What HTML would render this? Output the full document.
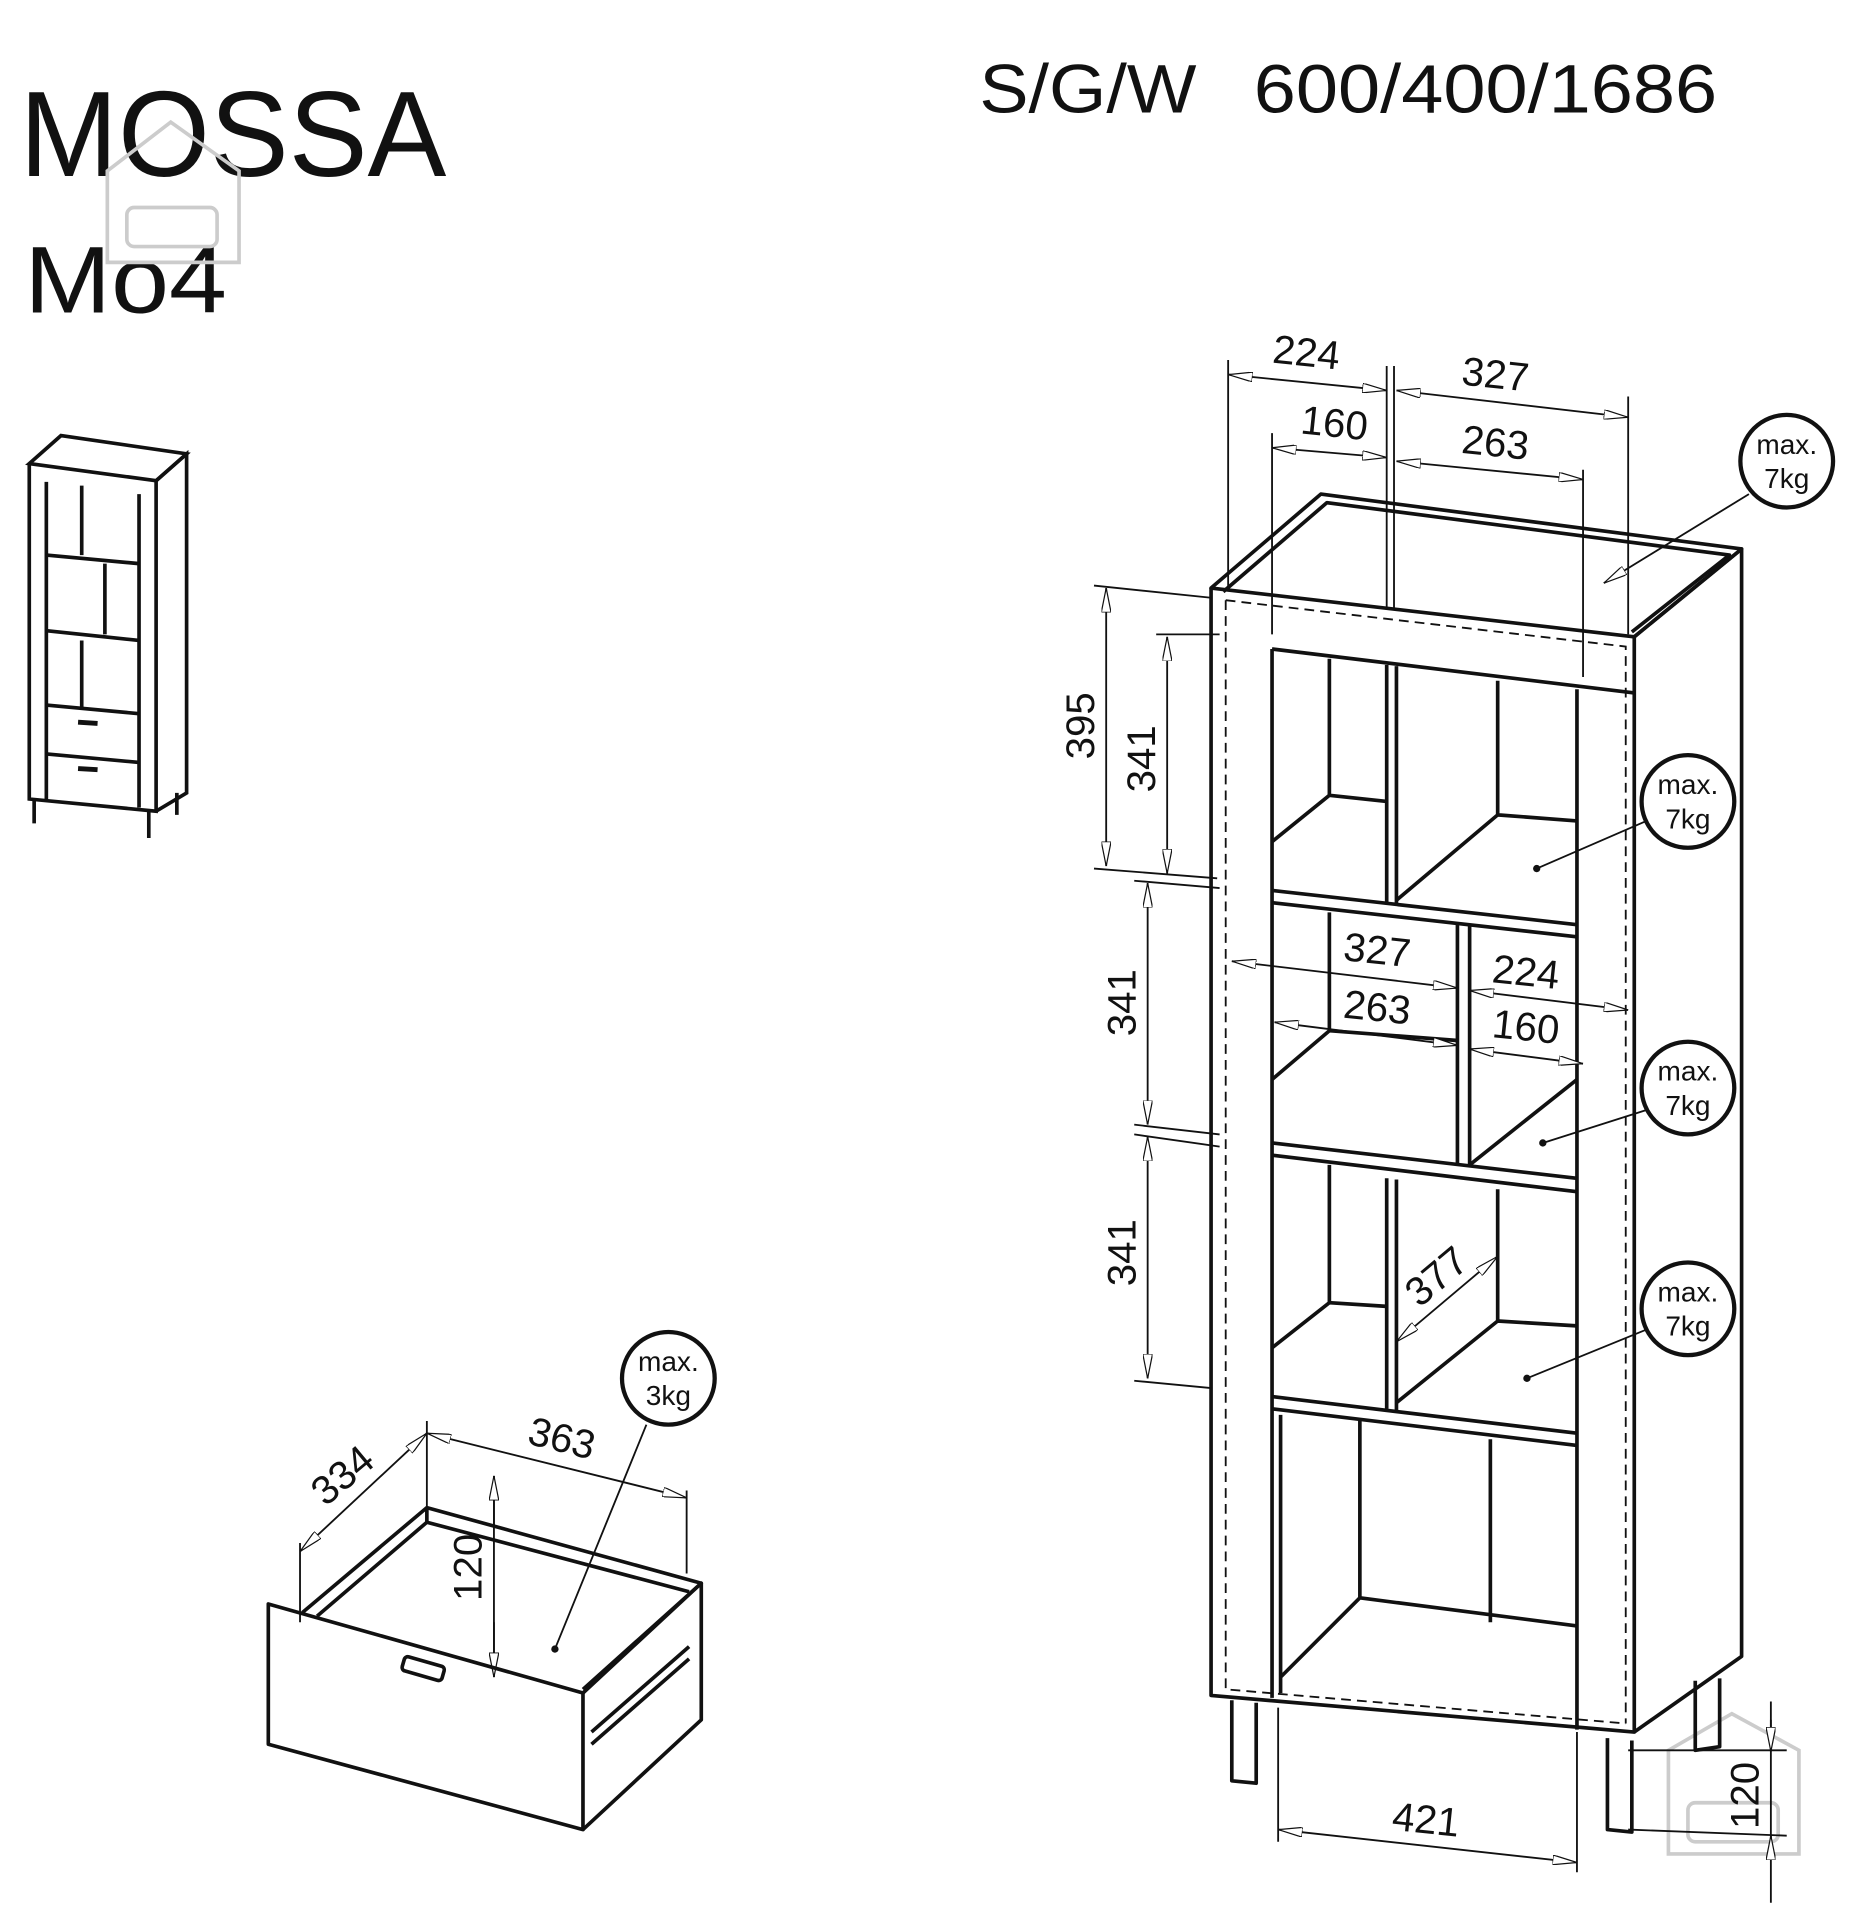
<!DOCTYPE html>
<html><head><meta charset="utf-8"><style>html,body{margin:0;padding:0;background:#fff}svg{display:block}</style></head><body>
<svg width="1866" height="1920" viewBox="0 0 1530 1574" xmlns="http://www.w3.org/2000/svg" font-family="Liberation Sans, sans-serif">
<defs>
<marker id="a" viewBox="0 0 20 8" refX="20" refY="4" markerWidth="20" markerHeight="8" orient="auto-start-reverse" markerUnits="userSpaceOnUse"><path d="M0,0 L20,4 L0,8 Z" fill="#fff" stroke="#111" stroke-width="1"/></marker>
</defs>
<rect width="1530" height="1574" fill="#fff"/>
<g fill="#111">
<text x="16" y="144" font-size="100" textLength="350" lengthAdjust="spacingAndGlyphs">MOSSA</text>
<text x="20" y="256" font-size="78" textLength="166" lengthAdjust="spacingAndGlyphs">Mo4</text>
<text x="803" y="92" font-size="56" textLength="178" lengthAdjust="spacingAndGlyphs">S/G/W</text>
<text x="1028" y="92" font-size="56" textLength="380" lengthAdjust="spacingAndGlyphs">600/400/1686</text>
</g>
<!-- watermark -->
<g fill="none" stroke="#ccc" stroke-width="3">
<path d="M88,140 L140,100 L196,140 L196,215 L88,215 Z"/><rect x="104" y="170" width="74" height="32" rx="6"/>
<path d="M1368,1435 L1420,1405 L1475,1435 L1475,1520 L1368,1520 Z"/><rect x="1384" y="1478" width="74" height="32" rx="6"/>
</g>
<!-- thumbnail -->
<g fill="none" stroke="#111" stroke-width="3">
<path d="M24,380 L50,357 L153,372 L128,394 Z"/>
<path d="M24,380 L24,655 L128,665 L128,394"/>
<path d="M128,394 L153,372 L153,650 L128,665"/>
<path d="M38,395 L38,655 M114,405 L114,662"/>
<path d="M38,455 L114,462 M38,517 L114,525 M38,578 L114,585 M38,618 L114,625"/>
<path d="M67,398 L67,455 M86,462 L86,520 M67,525 L67,582"/>
<path d="M28,655 L28,675 M122,665 L122,687 M145,650 L145,668"/>
</g>
<path d="M64,592 L80,593 M64,630 L80,631" stroke="#111" stroke-width="4"/>
<!-- main cabinet -->
<g fill="none" stroke="#111" stroke-width="3" stroke-linejoin="round">
<path d="M993,482 L1083,405 L1428,450 L1340,522 Z"/>
<path d="M1003,485 L1088,412 L1418,455 L1338,518"/>
<path d="M993,482 L993,1390 L1340,1420 L1340,522"/>
<path d="M1340,522 L1428,450 L1428,1358 L1340,1420"/>
<path d="M1043,532 L1043,1392 M1293,565 L1293,1418"/>
<path d="M1043,532 L1340,568"/>
<path d="M1043,730 L1293,758 M1043,740 L1293,768"/>
<path d="M1043,937 L1293,966 M1043,947 L1293,977"/>
<path d="M1043,1145 L1293,1175 M1043,1155 L1293,1185"/>
<path d="M1137,545 L1137,740 M1145,546 L1145,741"/>
<path d="M1195,757 L1195,955 M1205,758 L1205,956"/>
<path d="M1137,966 L1137,1155 M1145,967 L1145,1156"/>
<path d="M1090,540 L1090,652 M1043,690 L1090,652 L1137,657"/>
<path d="M1228,558 L1228,668 M1145,738 L1228,668 L1293,673"/>
<path d="M1090,748 L1090,845 M1043,885 L1090,845 L1195,853"/>
<path d="M1293,885 L1205,955"/>
<path d="M1090,955 L1090,1068 M1043,1105 L1090,1068 L1137,1071"/>
<path d="M1228,975 L1228,1083 M1145,1150 L1228,1083 L1293,1087"/>
<path d="M1050,1160 L1050,1388 M1115,1165 L1115,1310 M1050,1375 L1115,1310 L1293,1333 M1222,1180 L1222,1330"/>
<path d="M1010,1394 L1010,1460 L1030,1462 L1030,1396"/>
<path d="M1318,1425 L1318,1500 L1338,1502 L1338,1427"/>
<path d="M1390,1378 L1390,1435 L1410,1432 L1410,1376"/>
</g>
<path d="M1005,492 L1005,1385 L1333,1413 M1005,492 L1333,530 L1333,1413" fill="none" stroke="#111" stroke-width="1.5" stroke-dasharray="8,5"/>
<!-- dimension lines -->
<g stroke="#111" stroke-width="1.5" fill="none">
<path d="M1007,295 L1007,482 M1137,300 L1137,500 M1143,300 L1143,500 M1335,325 L1335,520 M1043,355 L1043,520 M1298,385 L1298,555"/>
<path d="M1007,307 L1137,320" marker-start="url(#a)" marker-end="url(#a)"/>
<path d="M1145,320 L1335,342" marker-start="url(#a)" marker-end="url(#a)"/>
<path d="M1043,367 L1137,375" marker-start="url(#a)" marker-end="url(#a)"/>
<path d="M1145,378 L1298,393" marker-start="url(#a)" marker-end="url(#a)"/>
<path d="M897,480 L993,490 M897,712 L998,720 M948,520 L1000,520 M930,722 L1000,728 M930,922 L1000,930 M930,930 L1000,940 M930,1132 L993,1138"/>
<path d="M907,482 L907,710" marker-start="url(#a)" marker-end="url(#a)"/>
<path d="M957,522 L957,716" marker-start="url(#a)" marker-end="url(#a)"/>
<path d="M941,724 L941,922" marker-start="url(#a)" marker-end="url(#a)"/>
<path d="M941,932 L941,1130" marker-start="url(#a)" marker-end="url(#a)"/>
<path d="M1010,788 L1195,810" marker-start="url(#a)" marker-end="url(#a)"/>
<path d="M1205,812 L1335,828" marker-start="url(#a)" marker-end="url(#a)"/>
<path d="M1045,838 L1195,857" marker-start="url(#a)" marker-end="url(#a)"/>
<path d="M1205,860 L1298,872" marker-start="url(#a)" marker-end="url(#a)"/>
<path d="M1145,1100 L1228,1030" marker-start="url(#a)" marker-end="url(#a)"/>
<path d="M1048,1400 L1048,1510 M1293,1420 L1293,1535"/>
<path d="M1048,1500 L1293,1527" marker-start="url(#a)" marker-end="url(#a)"/>
<path d="M1335,1435 L1465,1435 M1335,1500 L1465,1505 M1452,1395 L1452,1560"/>
<path d="M1452,1410 L1452,1436" marker-end="url(#a)"/>
<path d="M1452,1525 L1452,1505" marker-end="url(#a)"/>
<path d="M1434,405 L1315,478" marker-end="url(#a)"/>
<path d="M1350,673 L1260,712 M1350,910 L1265,937 M1350,1090 L1252,1130 M530,1168 L455,1352"/>
<path d="M350,1165 L350,1240 M563,1222 L563,1290 M246,1265 L246,1330"/>
<path d="M350,1175 L563,1228" marker-start="url(#a)" marker-end="url(#a)"/>
<path d="M246,1272 L350,1175" marker-start="url(#a)" marker-end="url(#a)"/>
<path d="M405,1210 L405,1375" />
<path d="M405,1210 L405,1250" marker-start="url(#a)"/>
<path d="M405,1330 L405,1375" marker-end="url(#a)"/>
</g>
<g fill="#111"><circle cx="1260" cy="712" r="3"/><circle cx="1265" cy="937" r="3"/><circle cx="1252" cy="1130" r="3"/><circle cx="455" cy="1352" r="3"/></g>
<!-- drawer -->
<g fill="none" stroke="#111" stroke-width="3" stroke-linejoin="round">
<path d="M220,1315 L478,1388 L478,1500 L220,1430 Z"/>
<path d="M248,1322 L350,1236 L575,1298 L478,1385"/>
<path d="M260,1325 L350,1248 L565,1305"/>
<path d="M350,1236 L350,1248"/>
<path d="M478,1388 L575,1298 L575,1410 L478,1500"/>
<path d="M485,1420 L565,1350 M485,1430 L565,1360"/>
<rect x="330" y="1362" width="34" height="12" rx="3" transform="rotate(16 347 1368)"/>
</g>
<!-- circles -->
<g fill="#fff" stroke="#111" stroke-width="3.5">
<circle cx="1465" cy="378" r="38"/><circle cx="1384" cy="657" r="38"/><circle cx="1384" cy="892" r="38"/><circle cx="1384" cy="1073" r="38"/><circle cx="548" cy="1130" r="38"/>
</g>
<g fill="#111" font-size="23" text-anchor="middle">
<text x="1465" y="372">max.</text><text x="1465" y="400">7kg</text>
<text x="1384" y="651">max.</text><text x="1384" y="679">7kg</text>
<text x="1384" y="886">max.</text><text x="1384" y="914">7kg</text>
<text x="1384" y="1067">max.</text><text x="1384" y="1095">7kg</text>
<text x="548" y="1124">max.</text><text x="548" y="1152">3kg</text>
</g>
<g fill="#111" font-size="33" text-anchor="middle">
<text x="1070" y="300" transform="rotate(6 1070 300)">224</text>
<text x="1225" y="318" transform="rotate(6 1225 318)">327</text>
<text x="1093" y="358" transform="rotate(6 1093 358)">160</text>
<text x="1225" y="374" transform="rotate(6 1225 374)">263</text>
<text x="897" y="595" transform="rotate(-90 897 595)">395</text>
<text x="947" y="622" transform="rotate(-90 947 622)">341</text>
<text x="931" y="822" transform="rotate(-90 931 822)">341</text>
<text x="931" y="1027" transform="rotate(-90 931 1027)">341</text>
<text x="1128" y="790" transform="rotate(6 1128 790)">327</text>
<text x="1128" y="837" transform="rotate(6 1128 837)">263</text>
<text x="1250" y="808" transform="rotate(6 1250 808)">224</text>
<text x="1250" y="853" transform="rotate(6 1250 853)">160</text>
<text x="1185" y="1055" transform="rotate(-40 1185 1055)">377</text>
<text x="1168" y="1503" transform="rotate(6 1168 1503)">421</text>
<text x="1442" y="1472" transform="rotate(-90 1442 1472)">120</text>
<text x="458" y="1190" transform="rotate(14 458 1190)">363</text>
<text x="288" y="1218" transform="rotate(-40 288 1218)">334</text>
<text x="395" y="1285" transform="rotate(-90 395 1285)">120</text>
</g>
</svg>
</body></html>
